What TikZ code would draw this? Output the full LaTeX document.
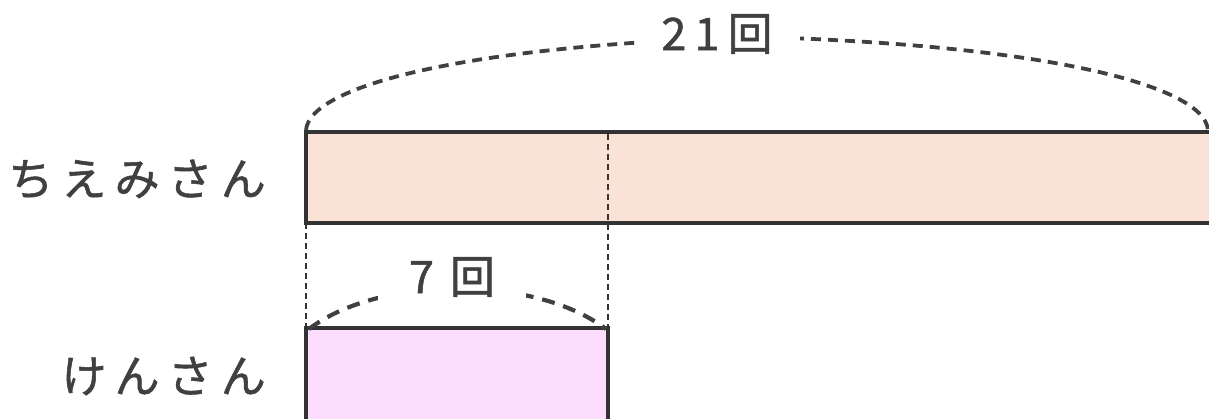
\documentclass[tikz,border=0pt]{standalone}
\usepackage{fontspec}
\newfontfamily\jp[LetterSpace=18, FakeBold=1.2]{Noto Sans CJK JP}
\definecolor{ink}{HTML}{404040}
\definecolor{peach}{HTML}{FAE3D6}
\definecolor{pinkbar}{HTML}{FDDDFE}
\tikzset{
  bar/.style={draw=ink!80!black, line width=3.2pt},
  guide/.style={draw=ink!80!black, line width=1.5pt, dash pattern=on 6pt off 4pt},
  brace/.style={draw=ink, line width=3.8pt, dash pattern=on 10pt off 7pt},
  lowbrace/.style={draw=ink, line width=4.2pt, dash pattern=on 13pt off 9pt},
  personlabel/.style={font=\jp\fontsize{45}{50}\selectfont, text=ink, inner sep=0pt},
  amount/.style={font=\jp\fontsize{45}{50}\selectfont, text=ink, fill=white, inner sep=0pt},
}
\begin{document}
\begin{tikzpicture}[x=1pt, y=-1pt]
\useasboundingbox (0,0) rectangle (1209,419);
\clip (0,0) rectangle (1209,419);
% bars
\path[bar, fill=peach] (306,132) rectangle (1215,223);
\path[bar, fill=pinkbar] (306,328) rectangle (608,430);
% guides
\coordinate (tl) at (306,223);
\coordinate (bl) at (306,328);
\coordinate (tm) at (608,134);
\coordinate (bm) at (608,328);
\path[guide] (tl) -- (bl);
\path[guide] (tm) -- (bm);
% top brace
\coordinate (bs) at (306,130);
\coordinate (bp) at (757,37);
\coordinate (be) at (1208,130);
\path[brace] (bs) .. controls (310,85) and (470,45) .. (bp)
  .. controls (1044,45) and (1204,85) .. (be);
\node[amount, minimum width=165pt, minimum height=50pt] (t21) at (717,34) {21回};
% lower brace
\coordinate (ls) at (309,329);
\coordinate (le) at (606,329);
\path[lowbrace] (ls) .. controls (380,275) and (535,275) .. (le);
\node[amount, minimum width=148pt, minimum height=58pt] (t7) at (452,277) {7\hspace{16pt}回};
% names
\node[personlabel, anchor=east] (chiemi) at (266,179) {ちえみさん};
\node[personlabel, anchor=east] (ken) at (266,376) {けんさん};
\end{tikzpicture}
\end{document}
